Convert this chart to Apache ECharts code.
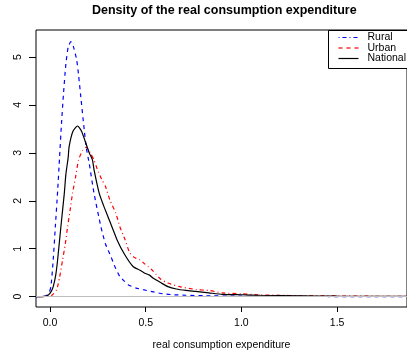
<!DOCTYPE html>
<html>
<head>
<meta charset="utf-8">
<script src="https://cdn.jsdelivr.net/npm/echarts@6/dist/echarts.min.js"></script>
<style>
html, body { margin: 0; padding: 0; background: #fff; }
#main { width: 407px; height: 356px; }
</style>
</head>
<body>
<div id="main"></div>
<script>
// density curves
var ruralX = [-0.073, -0.04, -0.02, -0.005, 0.005, 0.017, 0.028, 0.04, 0.05, 0.06, 0.07, 0.083, 0.095, 0.109, 0.122, 0.139, 0.15, 0.161, 0.179, 0.19, 0.205, 0.23, 0.266, 0.29, 0.318, 0.34, 0.365, 0.387, 0.408, 0.45, 0.486, 0.54, 0.59, 0.65, 0.71, 0.8, 1.0, 1.3, 1.865];
var ruralY = [0, 0.002, 0.02, 0.08, 0.21, 0.77, 1.46, 2.2, 2.9, 3.6, 4.2, 4.85, 5.2, 5.32, 5.22, 4.95, 4.6, 4.17, 3.48, 3.1, 2.78, 2.16, 1.46, 1.1, 0.84, 0.62, 0.42, 0.33, 0.25, 0.18, 0.146, 0.1, 0.06, 0.04, 0.03, 0.02, 0.01, 0.005, 0];

var urbanX = [-0.073, -0.02, 0.01, 0.035, 0.05, 0.066, 0.08, 0.092, 0.105, 0.118, 0.134, 0.149, 0.17, 0.19, 0.21, 0.23, 0.248, 0.27, 0.29, 0.3125, 0.344, 0.365, 0.392, 0.417, 0.44, 0.469, 0.49, 0.512, 0.535, 0.555, 0.58, 0.616, 0.677, 0.764, 0.83, 0.9, 1.0, 1.08, 1.2, 1.3, 1.5, 1.865];
var urbanY = [0, 0.003, 0.03, 0.15, 0.4, 0.77, 1.1, 1.46, 1.8, 2.16, 2.5, 2.85, 3.05, 3.12, 3.0, 2.85, 2.65, 2.45, 2.3, 2.02, 1.74, 1.46, 1.19, 0.91, 0.82, 0.77, 0.7, 0.63, 0.55, 0.46, 0.36, 0.285, 0.21, 0.15, 0.13, 0.08, 0.06, 0.04, 0.03, 0.02, 0.015, 0.005];

var nationalX = [-0.073, -0.03, -0.01, 0.005, 0.017, 0.03, 0.04, 0.057, 0.075, 0.083, 0.095, 0.1, 0.12, 0.144, 0.165, 0.1875, 0.205, 0.222, 0.23, 0.257, 0.28, 0.3, 0.35, 0.39, 0.434, 0.47, 0.495, 0.52, 0.538, 0.58, 0.616, 0.66, 0.71, 0.76, 0.83, 0.9, 1.0, 1.1, 1.3, 1.5, 1.865];
var nationalY = [0, 0.005, 0.03, 0.1, 0.21, 0.45, 0.77, 1.46, 2.16, 2.55, 2.9, 3.13, 3.45, 3.56, 3.45, 3.2, 3.0, 2.85, 2.65, 2.16, 1.9, 1.7, 1.19, 0.88, 0.63, 0.55, 0.49, 0.45, 0.39, 0.29, 0.21, 0.16, 0.13, 0.11, 0.08, 0.05, 0.04, 0.03, 0.02, 0.01, 0.005];

var xTicks = [0, 0.5, 1, 1.5];
var yTicks = [0, 1, 2, 3, 4, 5];

function pairs(xs, ys) {
    var out = [];
    for (var i = 0; i < xs.length; i++) {
        out.push([xs[i], ys[i]]);
    }
    return out;
}

var font = 'Liberation Sans, Arial, Helvetica, sans-serif';

var chart = echarts.init(document.getElementById('main'), null, {renderer: 'canvas'});
chart.setOption({
    animation: false,
    backgroundColor: '#fff',
    title: {
        text: 'Density of the real consumption expenditure',
        left: 87,
        top: -1,
        textStyle: {fontFamily: font, fontSize: 12.5, fontWeight: 'bold', color: '#000'}
    },
    grid: {
        left: 36,
        right: -1,
        top: 30,
        bottom: 48,
        show: true,
        borderColor: '#000',
        borderWidth: 1,
        backgroundColor: 'transparent'
    },
    xAxis: {
        type: 'value',
        min: -0.073,
        max: 1.865,
        splitLine: {show: false},
        axisLine: {show: false, onZero: false},
        axisTick: {show: true, length: 5, customValues: xTicks, lineStyle: {color: '#000'}},
        axisLabel: {
            customValues: xTicks,
            margin: 11,
            fontFamily: font,
            fontSize: 10.5,
            color: '#000',
            formatter: function (v) { return v.toFixed(1); }
        },
        name: 'real consumption expenditure',
        nameLocation: 'middle',
        nameGap: 33,
        nameTextStyle: {fontFamily: font, fontSize: 10.5, color: '#000'}
    },
    yAxis: {
        type: 'value',
        min: -0.215,
        max: 5.5625,
        splitLine: {show: false},
        axisLine: {show: false, onZero: false},
        axisTick: {show: true, length: 7, customValues: yTicks, lineStyle: {color: '#000'}},
        axisLabel: {
            customValues: yTicks,
            rotate: 90,
            margin: 12,
            fontFamily: font,
            fontSize: 10.5,
            color: '#000'
        }
    },
    series: [{
        name: 'Rural',
        type: 'line',
        data: pairs(ruralX, ruralY),
        showSymbol: false,
        smooth: 0.2,
        lineStyle: {color: '#0000ff', width: 1.2, type: [4, 4]},
        markLine: {
            silent: true,
            symbol: 'none',
            label: {show: false},
            lineStyle: {color: '#bebebe', width: 1, type: 'solid'},
            data: [{yAxis: 0}]
        }
    }, {
        name: 'Urban',
        type: 'line',
        data: pairs(urbanX, urbanY),
        showSymbol: false,
        smooth: 0.2,
        lineStyle: {color: '#ff0000', width: 1.2, type: [1, 3, 4, 3]}
    }, {
        name: 'National',
        type: 'line',
        data: pairs(nationalX, nationalY),
        showSymbol: false,
        smooth: 0.2,
        lineStyle: {color: '#000', width: 1.2, type: 'solid'}
    }],
    graphic: [{
        type: 'group',
        left: 328,
        top: 30,
        children: [
            {type: 'rect', shape: {x: 0, y: 0, width: 90, height: 38}, style: {fill: '#fff', stroke: '#000', lineWidth: 1}},
            {type: 'line', shape: {x1: 10, y1: 7, x2: 30, y2: 7}, style: {stroke: '#0000ff', lineWidth: 1.2, lineDash: [1, 3, 4, 3]}},
            {type: 'line', shape: {x1: 10, y1: 17.5, x2: 30, y2: 17.5}, style: {stroke: '#ff0000', lineWidth: 1.2, lineDash: [4, 4]}},
            {type: 'line', shape: {x1: 10, y1: 28, x2: 30, y2: 28}, style: {stroke: '#000', lineWidth: 1.2}},
            {type: 'text', x: 39, y: 7, style: {text: 'Rural', font: '10.5px ' + font, fill: '#000', verticalAlign: 'middle'}},
            {type: 'text', x: 39, y: 17.5, style: {text: 'Urban', font: '10.5px ' + font, fill: '#000', verticalAlign: 'middle'}},
            {type: 'text', x: 39, y: 28, style: {text: 'National', font: '10.5px ' + font, fill: '#000', verticalAlign: 'middle'}}
        ]
    }]
});
</script>
</body>
</html>
